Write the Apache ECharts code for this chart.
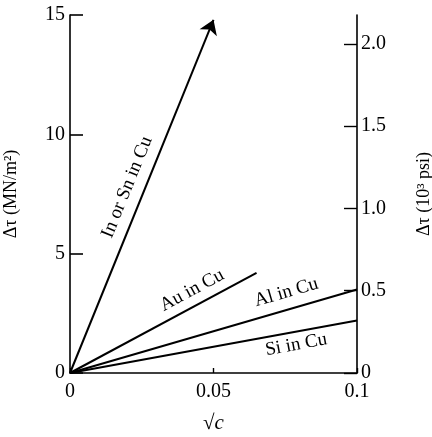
<!DOCTYPE html>
<html><head><meta charset="utf-8">
<script src="https://cdn.jsdelivr.net/npm/echarts@6/dist/echarts.min.js"></script>
<style>html,body{margin:0;padding:0;background:#fff}#c{width:432px;height:437px}</style>
</head><body><div id="c"></div>
<script>
// ---- data ----
const lineNames = ['In or Sn in Cu', 'Au in Cu', 'Al in Cu', 'Si in Cu'];
const lineEndSqrtC = [0.05, 0.065, 0.1, 0.1];
const lineEndDtau = [14.8, 4.2, 3.5, 2.2];
const arrowOnLine = [true, false, false, false];
const xTickValues = [0, 0.05, 0.1];
const xTickLabels = ['0', '0.05', '0.1'];
const leftTickValues = [0, 5, 10, 15];
const rightTickValues = [0, 0.5, 1.0, 1.5, 2.0];
const rightTickLabels = ['0', '0.5', '1.0', '1.5', '2.0'];
const MN_PER_M2_TO_KSI = 0.145038;
// label placement along each line (data x), perpendicular pixel offset
const labelAtSqrtC = [0.0254, 0.045, 0.077, 0.078];
const labelOffsetPx = [17, 15, 17, -13];

const FONT = "'Liberation Serif', 'DejaVu Serif', serif";
const chart = echarts.init(document.getElementById('c'), null, {renderer: 'canvas'});

const yMax = 15;
const arrowData = [], plainData = [];
lineNames.forEach((n, i) => {
  const item = {name: n, coords: [[0, 0], [lineEndSqrtC[i], lineEndDtau[i]]]};
  (arrowOnLine[i] ? arrowData : plainData).push(item);
});

chart.setOption({
  animation: false,
  backgroundColor: '#fff',
  grid: {left: 70, right: 75, top: 15, bottom: 64, containLabel: false, outerBoundsMode: 'none'},
  xAxis: {
    type: 'value', min: 0, max: 0.1, interval: 0.05,
    name: '{r|√}{c|c}', nameLocation: 'middle', nameGap: 40,
    nameTextStyle: {rich: {
      r: {fontFamily: FONT, fontSize: 21, color: '#000'},
      c: {fontFamily: FONT, fontSize: 21, fontStyle: 'italic', color: '#000'}
    }},
    axisLine: {show: true, onZero: false, lineStyle: {color: '#000', width: 1.6}},
    axisTick: {show: true, inside: true, length: 5, customValues: xTickValues, lineStyle: {color: '#000', width: 1.4}},
    axisLabel: {
      customValues: xTickValues,
      formatter: v => xTickLabels[xTickValues.findIndex(t => Math.abs(t - v) < 1e-9)] ?? '',
      color: '#000', fontFamily: FONT, fontSize: 20, margin: 9
    },
    splitLine: {show: false}
  },
  yAxis: [{
    type: 'value', position: 'left', min: 0, max: yMax, interval: 5,
    name: 'Δτ (MN/m²)', nameLocation: 'middle', nameRotate: 90, nameGap: 50,
    nameTextStyle: {fontFamily: FONT, fontSize: 18, color: '#000'},
    axisLine: {show: true, onZero: false, lineStyle: {color: '#000', width: 1.6}},
    axisTick: {show: true, inside: true, length: 13, customValues: leftTickValues, lineStyle: {color: '#000', width: 1.6}},
    axisLabel: {customValues: leftTickValues, color: '#000', fontFamily: FONT, fontSize: 20, margin: 5},
    splitLine: {show: false}
  }, {
    type: 'value', position: 'right', min: 0, max: yMax * MN_PER_M2_TO_KSI,
    name: 'Δτ (10³ psi)', nameLocation: 'middle', nameRotate: 90, nameGap: 58,
    nameTextStyle: {fontFamily: FONT, fontSize: 18, color: '#000'},
    axisLine: {show: true, onZero: false, lineStyle: {color: '#000', width: 1.6}},
    axisTick: {show: true, inside: true, length: 13, customValues: rightTickValues, lineStyle: {color: '#000', width: 1.4}},
    axisLabel: {
      customValues: rightTickValues,
      formatter: v => rightTickLabels[rightTickValues.findIndex(t => Math.abs(t - v) < 1e-9)] ?? '',
      color: '#000', fontFamily: FONT, fontSize: 20, margin: 4
    },
    splitLine: {show: false}
  }],
  series: [{
    type: 'lines', coordinateSystem: 'cartesian2d', xAxisIndex: 0, yAxisIndex: 0,
    data: plainData, symbol: ['none', 'none'],
    lineStyle: {color: '#000', width: 2, opacity: 1}
  }, {
    type: 'lines', coordinateSystem: 'cartesian2d', xAxisIndex: 0, yAxisIndex: 0,
    data: arrowData, symbol: ['none', 'arrow'], symbolSize: [0, 14],
    lineStyle: {color: '#000', width: 2, opacity: 1}
  }]
});

// labels along the lines, positioned through the chart's own scales
const graphics = [];
lineNames.forEach((n, i) => {
  const p0 = chart.convertToPixel({gridIndex: 0}, [0, 0]);
  const p1 = chart.convertToPixel({gridIndex: 0}, [lineEndSqrtC[i], lineEndDtau[i]]);
  const dx = p1[0] - p0[0], dy = p1[1] - p0[1];
  const len = Math.hypot(dx, dy);
  const ux = dx / len, uy = dy / len;
  const slope = lineEndDtau[i] / lineEndSqrtC[i];
  const p = chart.convertToPixel({gridIndex: 0}, [labelAtSqrtC[i], labelAtSqrtC[i] * slope]);
  const nx = uy, ny = -ux; // normal pointing up/left
  const d = labelOffsetPx[i];
  graphics.push({
    type: 'text',
    x: p[0] + nx * d, y: p[1] + ny * d,
    rotation: Math.atan2(-dy, dx),
    style: {text: n, fontFamily: FONT, fontSize: 19, fill: '#000', align: 'center', verticalAlign: 'middle'},
    z: 100
  });
});
chart.setOption({graphic: graphics});
</script>
</body></html>
